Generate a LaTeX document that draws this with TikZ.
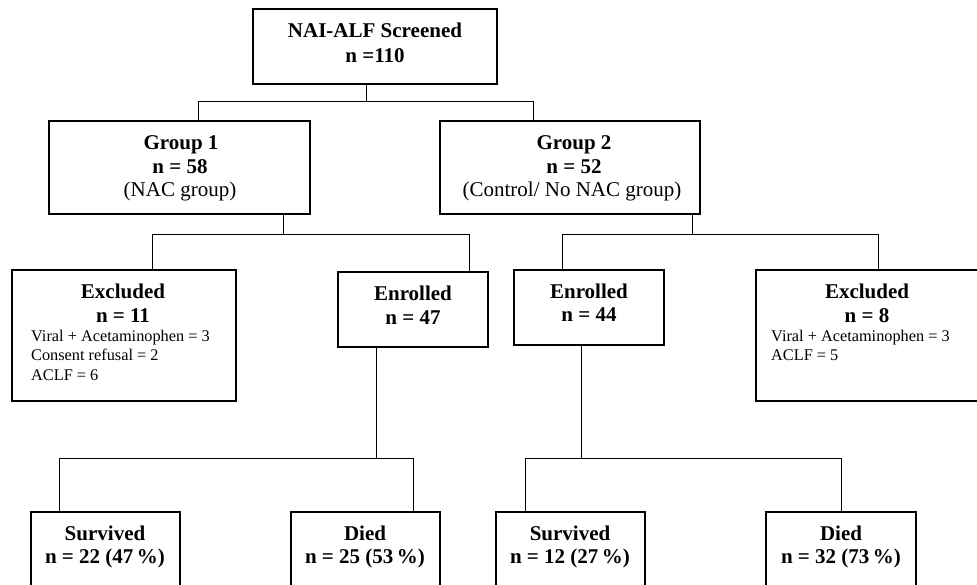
\documentclass[tikz,border=0pt]{standalone}
\usepackage{fontspec}
\setmainfont{Liberation Serif}
\begin{document}
\begin{tikzpicture}[x=1pt,y=-1pt,
  box/.style={draw, line width=1.3pt, inner sep=0pt, rectangle},
  conn/.style={draw, line width=1pt},
  tb/.style={inner sep=0pt, anchor=base, font=\fontsize{21}{25}\selectfont\bfseries},
  tr/.style={inner sep=0pt, anchor=base, font=\fontsize{21}{25}\selectfont},
  ts/.style={inner sep=0pt, anchor=base west, font=\fontsize{16.3}{19.5}\selectfont}]
\clip (0,0) rectangle (977,585);
\fill[white] (0,0) rectangle (977,585);

% boxes
\node[box, minimum width=244pt, minimum height=75pt] (top) at (375,46.5) {};
\node[box, minimum width=261pt, minimum height=93pt] (g1) at (179.5,167.5) {};
\node[box, minimum width=260pt, minimum height=93pt] (g2) at (570,167.5) {};
\node[box, minimum width=224pt, minimum height=131pt] (ex1) at (124,335.5) {};
\node[box, minimum width=150pt, minimum height=75pt] (en1) at (413,309.5) {};
\node[box, minimum width=150pt, minimum height=75pt] (en2) at (589,307.5) {};
\node[box, minimum width=226pt, minimum height=131pt] (ex2) at (869,335.5) {};
\node[box, minimum width=149pt, minimum height=88pt] (s1) at (105.5,556) {};
\node[box, minimum width=149pt, minimum height=88pt] (d1) at (365.5,556) {};
\node[box, minimum width=149pt, minimum height=88pt] (s2) at (570.5,556) {};
\node[box, minimum width=150pt, minimum height=88pt] (d2) at (841,556) {};

% texts
\node[tb] (topa) at (375,37.3) {NAI-ALF Screened};
\node[tb] (topb) at (375,62.3) {n =110};
\node[tb] (g1a) at (181,150) {Group 1};
\node[tb] (g1b) at (180,173.7) {n = 58};
\node[tr] (g1c) at (180,197) {(NAC group)};
\node[tb] (g2a) at (574,150) {Group 2};
\node[tb] (g2b) at (574,173.7) {n = 52};
\node[tr] (g2c) at (572,197) {(Control/ No NAC group)};
\node[tb] (ex1a) at (123,298.7) {Excluded};
\node[tb] (ex1b) at (123,322.7) {n = 11};
\node[ts] (ex1c) at (31,341.5) {Viral + Acetaminophen = 3};
\node[ts] (ex1d) at (31,360.5) {Consent refusal = 2};
\node[ts] (ex1e) at (31,380.5) {ACLF = 6};
\node[tb] (en1a) at (413,300.3) {Enrolled};
\node[tb] (en1b) at (413,324.7) {n = 47};
\node[tb] (en2a) at (589,298.7) {Enrolled};
\node[tb] (en2b) at (589,322) {n = 44};
\node[tb] (ex2a) at (867,298.7) {Excluded};
\node[tb] (ex2b) at (867,322.7) {n = 8};
\node[ts] (ex2c) at (771,341.5) {Viral + Acetaminophen = 3};
\node[ts] (ex2d) at (771,360.5) {ACLF = 5};
\node[tb] (s1a) at (105,540.3) {Survived};
\node[tb] (s1b) at (105,563) {n = 22 (47\,\%)};
\node[tb] (d1a) at (365,540.3) {Died};
\node[tb] (d1b) at (365,563) {n = 25 (53\,\%)};
\node[tb] (s2a) at (570,540.3) {Survived};
\node[tb] (s2b) at (570,563) {n = 12 (27\,\%)};
\node[tb] (d2a) at (841,540.3) {Died};
\node[tb] (d2b) at (841,563) {n = 32 (73\,\%)};

% junction coordinates
\coordinate (c0) at (366,102);
\coordinate (a1) at (198,102);
\coordinate (a2) at (533,102);
\coordinate (c1) at (283,235);
\coordinate (a3) at (152,235);
\coordinate (a4) at (469,235);
\coordinate (c2) at (692,235);
\coordinate (a5) at (562,235);
\coordinate (a6) at (878,235);
\coordinate (c3) at (376,458);
\coordinate (a7) at (59,458);
\coordinate (a8) at (413,458);
\coordinate (c4) at (581,458);
\coordinate (a9) at (525,458);
\coordinate (a10) at (841,458);

% connectors
\draw[conn] (top.south -| c0) -- (c0);
\draw[conn] (g1.north -| a1) -- (a1) -- (a2) -- (g2.north -| a2);
\draw[conn] (g1.south -| c1) -- (c1);
\draw[conn] (ex1.north -| a3) -- (a3) -- (a4) -- (en1.north -| a4);
\draw[conn] (g2.south -| c2) -- (c2);
\draw[conn] (en2.north -| a5) -- (a5) -- (a6) -- (ex2.north -| a6);
\draw[conn] (en1.south -| c3) -- (c3);
\draw[conn] (s1.north -| a7) -- (a7) -- (a8) -- (d1.north -| a8);
\draw[conn] (en2.south -| c4) -- (c4);
\draw[conn] (s2.north -| a9) -- (a9) -- (a10) -- (d2.north -| a10);
\end{tikzpicture}
\end{document}
